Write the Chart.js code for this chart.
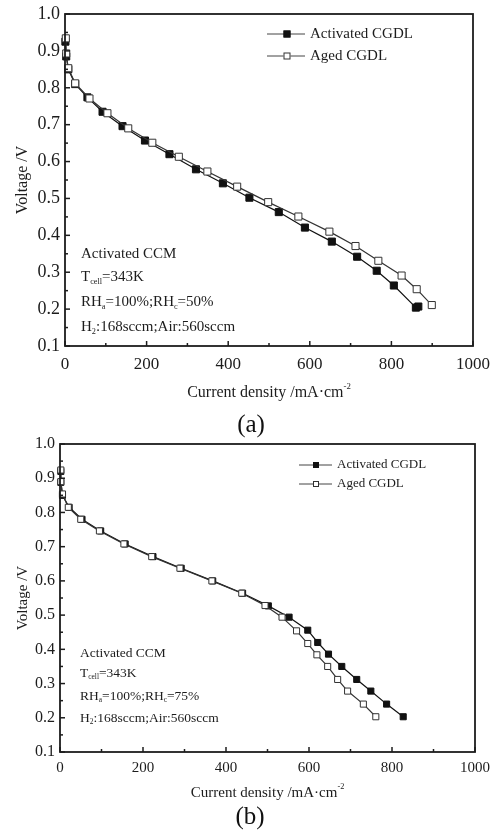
<!DOCTYPE html>
<html><head><meta charset="utf-8">
<script src="https://cdn.jsdelivr.net/npm/chart.js@4.4.1/dist/chart.umd.min.js"></script>
<style>
html,body{margin:0;padding:0;background:#fff;width:498px;height:832px;overflow:hidden;}
.box{position:absolute;left:0;width:498px;}
#wa{top:0;height:405px;}
#wb{top:420px;height:412px;}
.lab{position:absolute;font-family:'Liberation Serif',serif;font-size:25px;line-height:25px;color:#111;transform:translate(-50%,-50%);z-index:5;}
</style></head><body>
<div class="box" id="wa"><canvas id="ca"></canvas></div>
<div class="box" id="wb"><canvas id="cb"></canvas></div>
<div class="lab" style="left:251px;top:423px">(a)</div>
<div class="lab" style="left:250px;top:815px">(b)</div>
<script>
// ---- data ----
const seriesNames = ['Activated CGDL', 'Aged CGDL'];
const xTicks = [0, 200, 400, 600, 800, 1000];
const yTicks = [0.1, 0.2, 0.3, 0.4, 0.5, 0.6, 0.7, 0.8, 0.9, 1.0];

// panel (a): RHc = 50%
const actA_x = [1, 3, 8, 25, 55, 92, 141, 196, 256, 321, 387, 452, 524, 588, 654, 716, 764, 806, 860, 866];
const actA_y = [0.925, 0.885, 0.85, 0.81, 0.774, 0.735, 0.696, 0.657, 0.620, 0.579, 0.541, 0.502, 0.463, 0.421, 0.383, 0.342, 0.304, 0.264, 0.204, 0.207];
const ageA_x = [2, 3, 8, 25, 60, 104, 155, 214, 279, 349, 422, 498, 572, 648, 712, 768, 825, 862, 899];
const ageA_y = [0.934, 0.893, 0.853, 0.812, 0.771, 0.731, 0.690, 0.651, 0.613, 0.573, 0.532, 0.490, 0.451, 0.410, 0.371, 0.331, 0.291, 0.254, 0.211];

// panel (b): RHc = 75%
const actB_x = [2, 2, 6, 22, 53, 98, 157, 224, 292, 368, 440, 502, 552, 597, 621, 647, 679, 715, 749, 787, 827];
const actB_y = [0.92, 0.888, 0.85, 0.815, 0.78, 0.746, 0.708, 0.671, 0.637, 0.600, 0.564, 0.527, 0.494, 0.456, 0.420, 0.386, 0.350, 0.312, 0.278, 0.240, 0.203];
const ageB_x = [2, 2, 6, 20, 50, 95, 154, 221, 289, 366, 438, 494, 535, 570, 597, 619, 645, 669, 693, 731, 761];
const ageB_y = [0.924, 0.89, 0.854, 0.815, 0.78, 0.746, 0.708, 0.671, 0.637, 0.600, 0.564, 0.528, 0.494, 0.454, 0.417, 0.384, 0.350, 0.312, 0.278, 0.240, 0.203];

const notesA = [
  [{t:'Activated CCM'}],
  [{t:'T'},{t:'cell',s:1},{t:'=343K'}],
  [{t:'RH'},{t:'a',s:1},{t:'=100%;RH'},{t:'c',s:1},{t:'=50%'}],
  [{t:'H'},{t:'2',s:1},{t:':168sccm;Air:560sccm'}]
];
const notesB = [
  [{t:'Activated CCM'}],
  [{t:'T'},{t:'cell',s:1},{t:'=343K'}],
  [{t:'RH'},{t:'a',s:1},{t:'=100%;RH'},{t:'c',s:1},{t:'=75%'}],
  [{t:'H'},{t:'2',s:1},{t:':168sccm;Air:560sccm'}]
];

const FONT = "'Liberation Serif', serif";
const INK = '#1c1c1c';

function pts(xs, ys){ return xs.map((x,i)=>({x:x, y:ys[i]})); }

function drawRich(ctx, segs, x, y, size){
  let cx = x;
  ctx.textBaseline = 'middle'; ctx.textAlign = 'left';
  segs.forEach(sg=>{
    if (sg.s){ ctx.font = (size*0.55)+'px '+FONT; ctx.fillText(sg.t, cx, y + size*0.32); }
    else if (sg.sup){ ctx.font = (size*0.55)+'px '+FONT; ctx.fillText(sg.t, cx, y - size*0.38); }
    else { ctx.font = size+'px '+FONT; ctx.fillText(sg.t, cx, y); }
    cx += ctx.measureText(sg.t).width;
  });
  return cx - x;
}

function makeChart(id, cfg){
  const deco = {
    id: 'deco'+id,
    afterDraw(chart){
      const ctx = chart.ctx, a = chart.chartArea, xs = chart.scales.x, ys = chart.scales.y;
      ctx.save();
      ctx.strokeStyle = INK; ctx.fillStyle = INK;
      // frame
      ctx.lineWidth = 1.8;
      ctx.strokeRect(a.left, a.top, a.right - a.left, a.bottom - a.top);
      // inward ticks
      ctx.lineWidth = 1.5;
      for (let i = 0; i < xTicks.length; i++){
        const v = xTicks[i];
        let p = xs.getPixelForValue(v);
        ctx.beginPath(); ctx.moveTo(p, a.bottom); ctx.lineTo(p, a.bottom - cfg.maj); ctx.stroke();
        if (i < xTicks.length - 1){
          p = xs.getPixelForValue((v + xTicks[i+1]) / 2);
          ctx.beginPath(); ctx.moveTo(p, a.bottom); ctx.lineTo(p, a.bottom - cfg.min); ctx.stroke();
        }
      }
      for (let i = 0; i < yTicks.length; i++){
        const v = yTicks[i];
        let p = ys.getPixelForValue(v);
        ctx.beginPath(); ctx.moveTo(a.left, p); ctx.lineTo(a.left + cfg.maj, p); ctx.stroke();
        if (i < yTicks.length - 1){
          p = ys.getPixelForValue((v + yTicks[i+1]) / 2);
          ctx.beginPath(); ctx.moveTo(a.left, p); ctx.lineTo(a.left + cfg.min, p); ctx.stroke();
        }
      }
      // legend
      const L = cfg.legend;
      chart.data.datasets.forEach((ds, i)=>{
        const y = L.y[i];
        ctx.strokeStyle = '#444'; ctx.lineWidth = 1;
        ctx.beginPath(); ctx.moveTo(L.x1, y); ctx.lineTo(L.x2, y); ctx.stroke();
        const s = cfg.box;
        ctx.fillStyle = ds.backgroundColor; ctx.strokeStyle = ds.borderColor;
        ctx.fillRect(L.mx - s/2, y - s/2, s, s);
        ctx.strokeRect(L.mx - s/2 + 0.5, y - s/2 + 0.5, s - 1, s - 1);
        ctx.fillStyle = INK;
        ctx.font = L.size + 'px ' + FONT; ctx.textBaseline = 'middle'; ctx.textAlign = 'left';
        ctx.fillText(ds.label, L.tx, y);
      });
      // notes
      ctx.fillStyle = INK;
      cfg.notes.forEach((line, i)=> drawRich(ctx, line, cfg.noteX, cfg.noteY[i], cfg.noteSize));
      // x title
      const segs = [{t:'Current density /mA·cm'},{t:'-2',sup:1}];
      ctx.globalAlpha = 0;
      const w = drawRich(ctx, segs, 0, 0, cfg.titleSize);
      ctx.globalAlpha = 1;
      drawRich(ctx, segs, (a.left + a.right)/2 - w/2, cfg.xTitleY, cfg.titleSize);
      // y title
      ctx.save();
      ctx.translate(cfg.yTitleX, (a.top + a.bottom)/2);
      ctx.rotate(-Math.PI/2);
      ctx.font = cfg.titleSize + 'px ' + FONT; ctx.textAlign = 'center'; ctx.textBaseline = 'middle';
      ctx.fillText('Voltage /V', 0, 0);
      ctx.restore();
      ctx.restore();
    }
  };
  return new Chart(document.getElementById(id), {
    type: 'scatter',
    data: { datasets: [
      { label: seriesNames[0], data: pts(cfg.ax, cfg.ay), showLine: true, order: 1, clip: false,
        borderColor: '#111', backgroundColor: '#111', borderWidth: 1.2,
        pointStyle: 'rect', pointRadius: cfg.r, pointBorderWidth: 1, pointBackgroundColor: '#111', pointBorderColor: '#111' },
      { label: seriesNames[1], data: pts(cfg.gx, cfg.gy), showLine: true, order: 0, clip: false,
        borderColor: '#333', backgroundColor: '#fff', borderWidth: 1.2,
        pointStyle: 'rect', pointRadius: cfg.r, pointBorderWidth: 1, pointBackgroundColor: '#fff', pointBorderColor: '#333' }
    ]},
    options: {
      responsive: true, maintainAspectRatio: false, animation: false,
      layout: { padding: cfg.pad },
      plugins: { legend: { display: false }, tooltip: { enabled: false } },
      scales: {
        x: { type: 'linear', min: 0, max: 1000,
          afterBuildTicks: s => { s.ticks = xTicks.map(v=>({value:v})); },
          afterFit: s => { s.height = cfg.xh; s.paddingLeft = 0; s.paddingRight = 0; s.paddingTop = 0; s.paddingBottom = 0; },
          grid: { display: false, drawTicks: false }, border: { display: false },
          ticks: { color: INK, font: { family: FONT, size: cfg.tick }, padding: cfg.xpad, maxRotation: 0, autoSkip: false,
                   callback: v => String(v) } },
        y: { type: 'linear', min: 0.1, max: 1.0,
          afterBuildTicks: s => { s.ticks = yTicks.map(v=>({value:v})); },
          afterFit: s => { s.width = cfg.yw; s.paddingLeft = 0; s.paddingRight = 0; s.paddingTop = 0; s.paddingBottom = 0; },
          grid: { display: false, drawTicks: false }, border: { display: false },
          ticks: { color: INK, font: { family: FONT, size: cfg.ytick }, padding: 5, autoSkip: false,
                   callback: v => Number(v).toFixed(1) } }
      }
    },
    plugins: [deco]
  });
}

makeChart('ca', {
  ax: actA_x, ay: actA_y, gx: ageA_x, gy: ageA_y, r: 5, box: 7,
  pad: { left: 0, right: 25, top: 14, bottom: 0 }, yw: 65, xh: 59, xpad: 8, tick: 17, ytick: 18,
  maj: 5, min: 3,
  legend: { x1: 267, x2: 305, mx: 287, tx: 310, y: [34, 56], size: 15 },
  notes: notesA, noteX: 81, noteY: [254, 277, 302, 327], noteSize: 15,
  titleSize: 16, xTitleY: 393, yTitleX: 23
});
makeChart('cb', {
  ax: actB_x, ay: actB_y, gx: ageB_x, gy: ageB_y, r: 4.3, box: 6,
  pad: { left: 0, right: 23, top: 24, bottom: 0 }, yw: 60, xh: 80, xpad: 7, tick: 15, ytick: 16,
  maj: 5, min: 3,
  legend: { x1: 299, x2: 332, mx: 316, tx: 337, y: [45, 64], size: 13 },
  notes: notesB, noteX: 80, noteY: [233, 253, 276, 298], noteSize: 13.5,
  titleSize: 15, xTitleY: 373, yTitleX: 23
});
</script>
</body></html>
